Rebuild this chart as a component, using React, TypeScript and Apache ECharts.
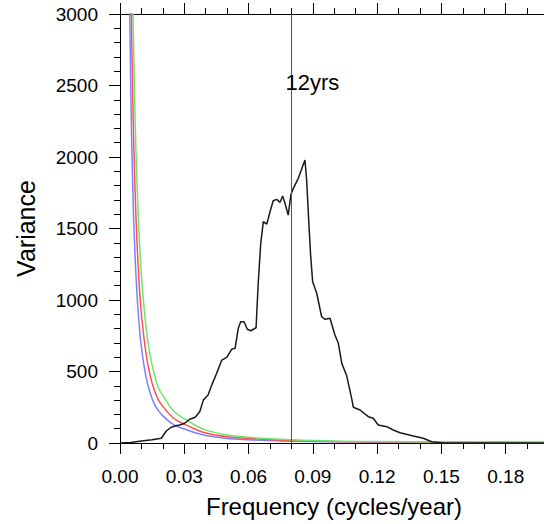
import React, { useEffect, useRef } from "react";
import * as echarts from "echarts";

// Observed spectrum (frequency in cycles/year, variance)
const blackFreq = [
  0.0, 0.005, 0.01, 0.015, 0.0193, 0.0216, 0.0239, 0.0265, 0.0279, 0.0302, 0.0325, 0.0351,
  0.0372, 0.0389, 0.0411, 0.0428, 0.0451, 0.0475, 0.0498, 0.0521, 0.0537, 0.0552, 0.0563,
  0.0579, 0.0594, 0.061, 0.0635, 0.0645, 0.0657, 0.0669, 0.0685, 0.07, 0.0715, 0.0731, 0.0747,
  0.0759, 0.077, 0.0785, 0.0798, 0.0809, 0.0832, 0.0863, 0.0871, 0.0883, 0.089, 0.0899, 0.0918,
  0.0941, 0.0957, 0.098, 0.1003, 0.1019, 0.1035, 0.1058, 0.1081, 0.1089, 0.112, 0.1159, 0.1182,
  0.1205, 0.1245, 0.1275, 0.1307, 0.1369, 0.1415, 0.1455, 0.1509, 0.21,
];
const blackVar = [
  0, 3, 14, 22, 33, 84, 110, 122, 126, 138, 166, 180,
  219, 300, 336, 405, 487, 580, 599, 655, 662, 802, 848,
  848, 795, 785, 806, 1117, 1400, 1548, 1531, 1617, 1694, 1704, 1683,
  1727, 1676, 1594, 1740, 1781, 1851, 1979, 1839, 1490, 1303, 1128, 1047,
  883, 865, 872, 755, 697, 557, 470, 312, 250, 231, 184, 173,
  126, 114, 91, 72, 49, 33, 9, 0, 0,
];

// Theoretical red-noise spectra and confidence curves
const noiseFreq = [
  0.004, 0.005, 0.006, 0.007, 0.008, 0.009, 0.01, 0.012, 0.014, 0.016, 0.018, 0.02,
  0.025, 0.03, 0.035, 0.04, 0.05, 0.06, 0.07, 0.08, 0.1, 0.12, 0.15, 0.2,
];
const blueVar = [
  3812, 2500, 1764, 1318, 1022, 818, 669, 473, 353, 274, 225, 190,
  128, 98, 72, 52, 32, 23, 17, 13, 8, 6, 4, 3,
];
const redVar = [
  5150, 3400, 2380, 1780, 1380, 1100, 900, 640, 476, 370, 300, 256,
  173, 132, 98, 70, 44, 32, 24, 18, 11, 8, 6, 4,
];
const greenVar = [
  6670, 4400, 3090, 2300, 1790, 1430, 1170, 830, 618, 480, 383, 332,
  224, 170, 126, 90, 56, 40, 30, 23, 14, 10, 7, 5,
];

const markFreq = 0.08;
const markLabel = "12yrs";
const xTitle = "Frequency (cycles/year)";
const yTitle = "Variance";

export default function App() {
  const ref = useRef<HTMLDivElement>(null);
  useEffect(() => {
    document.body.style.margin = "0";
    document.body.style.overflow = "hidden";
    document.documentElement.style.overflow = "hidden";
    const chart = echarts.init(ref.current!, null, { renderer: "svg" });
    const font = "'Liberation Sans', Arial, sans-serif";
    const tickStyle = { color: "#000", width: 1 };
    const xCommon: any = {
      type: "value",
      min: 0,
      max: 0.21,
      interval: 0.03,
      splitLine: { show: false },
      axisLine: { show: true, lineStyle: tickStyle },
      axisTick: { show: true, inside: false, length: 11, lineStyle: tickStyle },
      minorTick: { show: true, splitNumber: 3, length: 6, lineStyle: tickStyle },
    };
    const line = (
      name: string,
      xs: number[],
      ys: number[],
      color: string,
      w: number,
      smooth: number | boolean
    ) => ({
      name,
      type: "line",
      data: xs.map((f, i) => [f, ys[i]]),
      showSymbol: false,
      symbol: "none",
      clip: true,
      smooth,
      lineStyle: { color, width: w },
      itemStyle: { color },
      z: 2,
    });
    chart.setOption({
      animation: false,
      textStyle: { fontFamily: font },
      grid: {
        left: 120,
        top: 14,
        bottom: 81,
        right: 0,
        containLabel: false,
        outerBoundsMode: "none",
      },
      xAxis: [
        {
          ...xCommon,
          position: "bottom",
          axisLabel: {
            show: true,
            fontSize: 19,
            color: "#000",
            margin: 24,
            fontFamily: font,
            formatter: (v: number) => (v > 0.2 ? "" : v.toFixed(2)),
          },
          name: xTitle,
          nameLocation: "middle",
          nameGap: 51,
          nameTextStyle: { fontSize: 24, color: "#000", fontFamily: font, padding: [0, 22, 0, 0] },
        },
        {
          ...xCommon,
          position: "top",
          axisLabel: { show: false },
        },
      ],
      yAxis: {
        type: "value",
        min: 0,
        max: 3000,
        interval: 500,
        splitLine: { show: false },
        axisLine: { show: true, lineStyle: tickStyle },
        axisTick: { show: true, inside: false, length: 11, lineStyle: tickStyle },
        minorTick: { show: true, splitNumber: 5, length: 6, lineStyle: tickStyle },
        axisLabel: {
          fontSize: 19,
          color: "#000",
          margin: 22,
          fontFamily: font,
          formatter: (v: number) => String(v),
        },
        name: yTitle,
        nameLocation: "middle",
        nameGap: 82,
        nameTextStyle: { fontSize: 25, color: "#000", fontFamily: font },
      },
      series: [
        line("blue", noiseFreq, blueVar, "#7f7fff", 1.5, 0.4),
        line("red", noiseFreq, redVar, "#ff5050", 1.5, 0.4),
        line("green", noiseFreq, greenVar, "#6ee66e", 1.5, 0.4),
        {
          ...line("spectrum", blackFreq, blackVar, "#1a1a1a", 1.5, false),
          z: 3,
          markLine: {
            silent: true,
            symbol: "none",
            label: { show: false },
            lineStyle: { color: "#555", width: 1, type: "solid" },
            data: [{ xAxis: markFreq }],
          },
          markPoint: {
            symbol: "circle",
            symbolSize: 0,
            data: [{ coord: [markFreq, 2520], value: markLabel }],
            label: {
              show: true,
              position: "inside",
              offset: [21, 0],
              formatter: markLabel,
              fontSize: 22,
              color: "#000",
              fontFamily: font,
            },
          },
        },
      ],
    });
    return () => chart.dispose();
  }, []);
  return <div ref={ref} style={{ width: 570, height: 524 }} />;
}
